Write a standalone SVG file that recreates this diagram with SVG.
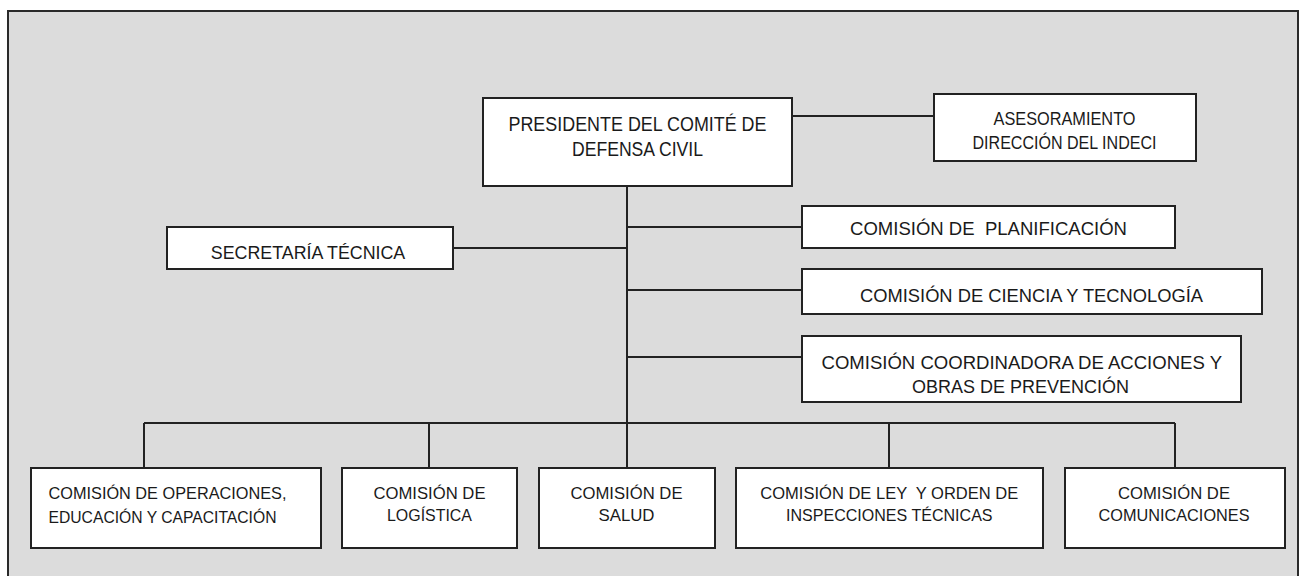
<svg xmlns="http://www.w3.org/2000/svg" width="1300" height="576" viewBox="0 0 1300 576">
<style>
.bg{fill:#dcdcdc;stroke:#2a2a2a;stroke-width:2}
.box{fill:#ffffff;stroke:#222;stroke-width:2}
.ln{fill:none;stroke:#222;stroke-width:2}
text{font-family:"Liberation Sans",Arial,sans-serif;fill:#1a1a1a;white-space:pre}
.t20{font-size:20px}
.t18{font-size:18px}
.t17{font-size:17px}
.m{text-anchor:middle}
</style>
<rect class="bg" x="8" y="11" width="1290" height="600"/>
<g id="connectors">
<path class="ln" d="M627 186 V423"/>
<path class="ln" d="M792 116 H934"/>
<path class="ln" d="M453 248 H627"/>
<path class="ln" d="M627 227 H802"/>
<path class="ln" d="M627 290 H802"/>
<path class="ln" d="M627 357 H802"/>
<path class="ln" d="M144 423 H1175"/>
<path class="ln" d="M144 423 V468 M429 423 V468 M627 423 V468 M889 423 V468 M1175 423 V468"/>
</g>
<g id="presidente">
<rect class="box" x="483" y="98" width="309" height="88"/>
<text class="t20 m" x="637.5" y="131" textLength="258" lengthAdjust="spacingAndGlyphs">PRESIDENTE DEL COMITÉ DE</text>
<text class="t20 m" x="637.5" y="155.5" textLength="131" lengthAdjust="spacingAndGlyphs">DEFENSA CIVIL</text>
</g>
<g id="asesoramiento">
<rect class="box" x="934" y="94" width="262" height="67"/>
<text class="t18 m" x="1064.5" y="125" textLength="142" lengthAdjust="spacingAndGlyphs">ASESORAMIENTO</text>
<text class="t18 m" x="1064.5" y="148.5" textLength="184" lengthAdjust="spacingAndGlyphs">DIRECCIÓN DEL INDECI</text>
</g>
<g id="secretaria">
<rect class="box" x="167" y="227" width="286" height="42"/>
<text class="t18 m" x="308" y="259" textLength="194.5" lengthAdjust="spacingAndGlyphs">SECRETARÍA TÉCNICA</text>
</g>
<g id="planificacion">
<rect class="box" x="802" y="206" width="373" height="42"/>
<text class="t18" x="850" y="235" textLength="277" lengthAdjust="spacingAndGlyphs">COMISIÓN DE  PLANIFICACIÓN</text>
</g>
<g id="ciencia">
<rect class="box" x="802" y="269" width="460" height="45"/>
<text class="t18" x="860" y="302" textLength="343" lengthAdjust="spacingAndGlyphs">COMISIÓN DE CIENCIA Y TECNOLOGÍA</text>
</g>
<g id="coordinadora">
<rect class="box" x="802" y="336" width="439" height="66"/>
<text class="t18" x="821.5" y="368.5" textLength="400.5" lengthAdjust="spacingAndGlyphs">COMISIÓN COORDINADORA DE ACCIONES Y</text>
<text class="t18" x="912" y="392.5" textLength="217" lengthAdjust="spacingAndGlyphs">OBRAS DE PREVENCIÓN</text>
</g>
<g id="operaciones">
<rect class="box" x="31" y="468" width="290" height="80"/>
<text class="t17" x="48.5" y="499" textLength="238" lengthAdjust="spacingAndGlyphs">COMISIÓN DE OPERACIONES,</text>
<text class="t17" x="48.5" y="522.5" textLength="228" lengthAdjust="spacingAndGlyphs">EDUCACIÓN Y CAPACITACIÓN</text>
</g>
<g id="logistica">
<rect class="box" x="342" y="468" width="175" height="80"/>
<text class="t17 m" x="429.5" y="499" textLength="112" lengthAdjust="spacingAndGlyphs">COMISIÓN DE</text>
<text class="t17 m" x="429.5" y="520.5" textLength="85" lengthAdjust="spacingAndGlyphs">LOGÍSTICA</text>
</g>
<g id="salud">
<rect class="box" x="539" y="468" width="176" height="80"/>
<text class="t17 m" x="626.5" y="499" textLength="112" lengthAdjust="spacingAndGlyphs">COMISIÓN DE</text>
<text class="t17 m" x="626.5" y="520.5" textLength="56" lengthAdjust="spacingAndGlyphs">SALUD</text>
</g>
<g id="ley">
<rect class="box" x="736" y="468" width="307" height="80"/>
<text class="t17 m" x="889.3" y="499" textLength="258" lengthAdjust="spacingAndGlyphs">COMISIÓN DE LEY  Y ORDEN DE</text>
<text class="t17 m" x="889.3" y="521" textLength="206.5" lengthAdjust="spacingAndGlyphs">INSPECCIONES TÉCNICAS</text>
</g>
<g id="comunicaciones">
<rect class="box" x="1065" y="468" width="220" height="80"/>
<text class="t17 m" x="1174" y="499" textLength="112" lengthAdjust="spacingAndGlyphs">COMISIÓN DE</text>
<text class="t17 m" x="1174" y="521" textLength="151" lengthAdjust="spacingAndGlyphs">COMUNICACIONES</text>
</g>
</svg>
